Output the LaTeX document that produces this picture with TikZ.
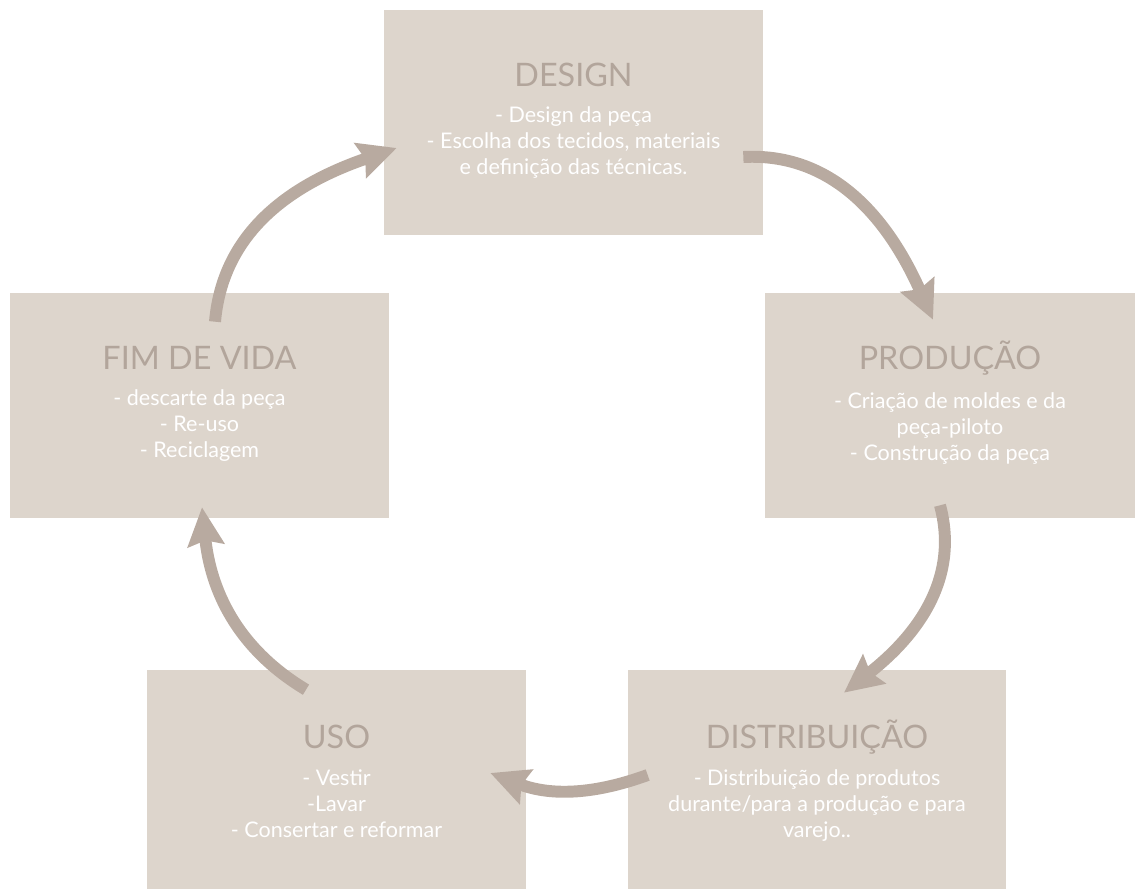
\documentclass[tikz,border=0pt]{standalone}
\usepackage{fontspec}
\setmainfont{Lato}
\usepackage{xcolor}
\usepackage{tikz}
\usetikzlibrary{arrows.meta, positioning, calc}

\definecolor{boxfill}{HTML}{DDD5CC}
\definecolor{arrowc}{HTML}{B8AAA0}
\definecolor{titlec}{HTML}{B2A59B}

\begin{document}
\begin{tikzpicture}[x=0.025cm, y=0.025cm,
  stage/.style={fill=boxfill, inner sep=0pt, minimum width=9.475cm, minimum height=5.625cm},
  stagetitle/.style={text=titlec, font=\fontsize{23}{26}\selectfont},
  stagebody/.style={text=white, align=center, font=\fontsize{15.3}{18.5}\selectfont},
  cyc/.style={arrowc, line width=8.5pt, -{Stealth[length=0.95cm, width=0.9cm, inset=0.12cm]}}]

  \useasboundingbox (0,0) rectangle (1135,889);

  % Stage boxes
  \node[stage] (design) at (573.5,766.5) {};
  \node[stage, minimum width=9.25cm] (prod) at (950,483.5) {};
  \node[stage] (fim) at (199.5,483.5) {};
  \node[stage, minimum height=5.475cm] (uso) at (336.5,109.5) {};
  \node[stage, minimum width=9.45cm, minimum height=5.475cm] (dist) at (817,109.5) {};

  % Titles
  \node[stagetitle] (designT) at ($(design.center)+(0,48)$) {DESIGN};
  \node[stagetitle] (prodT) at ($(prod.center)+(0,47)$) {PRODUÇÃO};
  \node[stagetitle] (fimT) at ($(fim.center)+(0,48)$) {FIM DE VIDA};
  \node[stagetitle] (usoT) at ($(uso.center)+(0,43)$) {USO};
  \node[stagetitle] (distT) at ($(dist.center)+(0,42)$) {DISTRIBUIÇÃO};

  % Descriptions
  \node[stagebody] (designB) at ($(design.center)+(0,-20)$)
    {- Design da peça\\- Escolha dos tecidos, materiais\\e definição das técnicas.};
  \node[stagebody] (prodB) at ($(prod.center)+(0,-23)$)
    {- Criação de moldes e da\\peça-piloto\\- Construção da peça};
  \node[stagebody] (fimB) at ($(fim.center)+(0,-20)$)
    {- descarte da peça\\- Re-uso\\- Reciclagem};
  \node[stagebody] (usoB) at ($(uso.center)+(0,-24)$)
    {- Vestir\\-Lavar\\- Consertar e reformar};
  \node[stagebody] (distB) at ($(dist.center)+(0,-26)$)
    {- Distribuição de produtos\\durante/para a produção e para\\varejo..};

  % Cycle arrows
  \draw[cyc] ($(design.east)+(-20,-34.5)$) to[out=3,in=114] ($(prod.north)+(-17,-27)$);
  \draw[cyc] ($(prod.south)+(-10,13)$) to[out=-75,in=38] ($(dist.north)+(27,-23)$);
  \draw[cyc] ($(dist.west)+(20,4.5)$) to[out=200,in=-21] ($(uso.east)+(-36,6.5)$);
  \draw[cyc] ($(uso.north)+(-30.5,-20)$) to[out=149,in=-84] ($(fim.south)+(2.5,11)$);
  \draw[cyc] ($(fim.north)+(15.5,-29)$) to[out=85,in=199] ($(design.west)+(13,-25.5)$);

\end{tikzpicture}
\end{document}
